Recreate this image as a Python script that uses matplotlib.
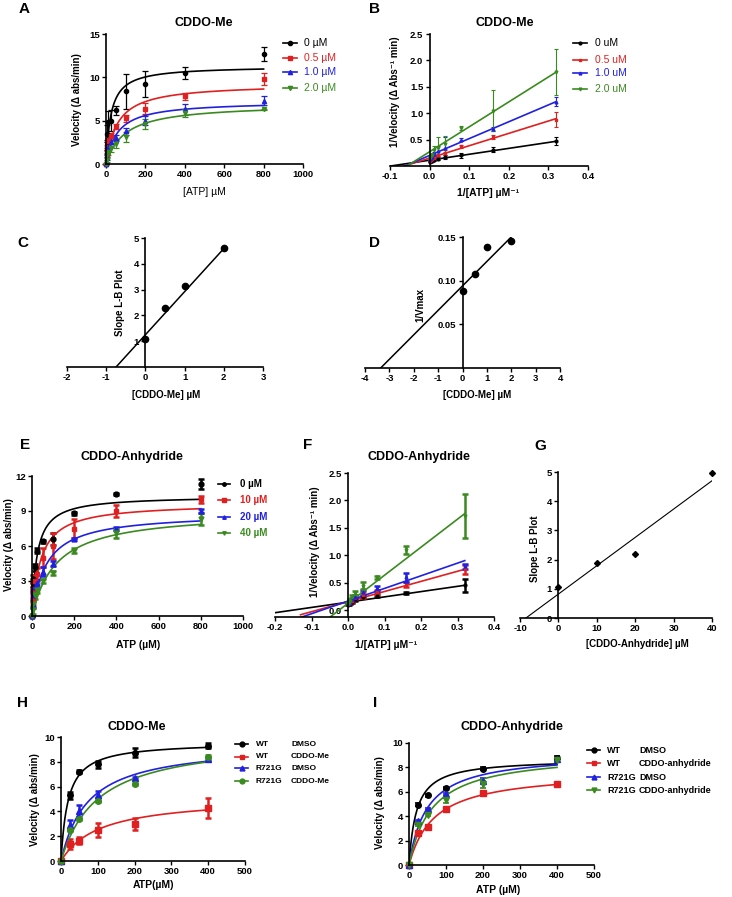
import numpy as np
import matplotlib
matplotlib.use("Agg")
import matplotlib.pyplot as plt
from matplotlib.lines import Line2D

plt.rcParams['font.family'] = ['Liberation Sans', 'DejaVu Sans']
plt.rcParams['font.weight'] = 'bold'
plt.rcParams['axes.unicode_minus'] = False

W, H = 732, 897
COLS = ["black", "#e02020", "#2020e0", "#3a8a20"]

# ---- data ----
atp = [0, 3.125, 6.25, 12.5, 25, 50, 100, 200, 400, 800]
inv_atp = [0.00125, 0.0025, 0.005, 0.01, 0.02, 0.04, 0.08, 0.16, 0.32]

# A: CDDO-Me velocities
A_labels = ["0 µM", "0.5 µM", "1.0 µM", "2.0 µM"]
A_v = [[0, 2.2, 3.5, 4.8, 5.0, 6.2, 8.4, 9.2, 10.5, 12.7],
       [0, 1.2, 2.0, 2.6, 3.2, 4.3, 5.3, 6.4, 7.8, 9.8],
       [0, 0.8, 1.4, 2.0, 2.5, 3.0, 3.8, 5.0, 6.3, 7.3],
       [0, 0.5, 1.0, 1.4, 1.9, 2.3, 3.1, 4.6, 5.9, 6.3]]
A_e = [[0, 0.6, 1.0, 1.3, 1.2, 0.5, 2.0, 1.5, 0.7, 0.8],
       [0, 0.4, 0.5, 0.4, 0.4, 0.3, 0.4, 0.6, 0.4, 0.7],
       [0, 0.3, 0.4, 0.4, 0.5, 0.3, 0.4, 0.5, 0.6, 0.5],
       [0, 0.3, 0.3, 0.4, 0.5, 0.5, 0.6, 0.6, 0.5, 0.1]]
A_vmax = [11.3, 9.27, 7.25, 6.94]
A_km = [25, 57.5, 58.8, 95]

# B: Lineweaver-Burk CDDO-Me
B_labels = ["0 uM", "0.5 uM", "1.0 uM", "2.0 uM"]
B_v = [[0.08, 0.095, 0.10, 0.12, 0.14, 0.17, 0.20, 0.31, 0.47],
       [0.10, 0.12, 0.14, 0.16, 0.20, 0.25, 0.37, 0.55, 0.88],
       [0.13, 0.15, 0.17, 0.22, 0.28, 0.35, 0.50, 0.70, 1.22],
       [0.15, 0.18, 0.21, 0.30, 0.35, 0.42, 0.72, 1.05, 1.78]]
B_e = [[0.01, 0.01, 0.02, 0.02, 0.03, 0.03, 0.05, 0.05, 0.07],
       [0.01, 0.02, 0.02, 0.03, 0.03, 0.05, 0.03, 0.03, 0.15],
       [0.01, 0.02, 0.03, 0.05, 0.10, 0.20, 0.03, 0.03, 0.08],
       [0.02, 0.03, 0.04, 0.08, 0.20, 0.15, 0.03, 0.38, 0.43]]
B_int = [0.11, 0.15, 0.20, 0.27]
B_slope = [1.12, 2.34, 3.19, 4.72]

# C / D: replots CDDO-Me
conc_me = [0, 0.5, 1, 2]
C_slope = [1.1, 2.3, 3.15, 4.6]
C_fit = (1.25, 1.67, -0.75, 2.0)      # intercept, slope, x start, x end
D_invv = [0.088, 0.108, 0.138, 0.145]
D_fit = (0.094, 0.028, -3.36, 2.0)

# E: CDDO-Anhydride velocities
E_labels = ["0 µM", "10 µM", "20 µM", "40 µM"]
E_v = [[0, 2.5, 3.2, 4.2, 5.6, 6.4, 6.6, 8.8, 10.45, 11.3],
       [0, 1.5, 2.3, 3.0, 3.6, 5.0, 6.0, 7.5, 9.0, 10.0],
       [0, 1.0, 1.8, 2.5, 2.8, 3.8, 4.5, 6.6, 7.5, 9.0],
       [0, 0.5, 1.0, 1.8, 2.2, 3.0, 3.7, 5.6, 7.1, 8.3]]
E_e = [[0, 0.3, 0.3, 0.3, 0.2, 0.1, 0.5, 0.1, 0.1, 0.4],
       [0, 0.5, 0.5, 0.5, 0.5, 0.8, 1.1, 0.8, 0.5, 0.3],
       [0, 0.3, 0.3, 0.3, 0.3, 0.4, 0.2, 0.1, 0.1, 0.2],
       [0, 0.3, 0.3, 0.3, 0.2, 0.2, 0.2, 0.2, 0.4, 0.5]]
E_vmax = [10.3, 9.68, 8.84, 8.98]
E_km = [24, 42, 68, 115]

# F: Lineweaver-Burk CDDO-Anhydride
F_v = [[0.10, 0.11, 0.12, 0.15, 0.20, 0.25, 0.27, 0.32, 0.46],
       [0.11, 0.12, 0.14, 0.17, 0.23, 0.28, 0.33, 0.47, 0.75],
       [0.12, 0.13, 0.15, 0.20, 0.25, 0.33, 0.40, 0.60, 0.80],
       [0.12, 0.14, 0.18, 0.25, 0.32, 0.45, 0.60, 1.10, 1.72]]
F_e = [[0.01, 0.01, 0.01, 0.01, 0.02, 0.02, 0.03, 0.02, 0.12],
       [0.01, 0.01, 0.02, 0.02, 0.03, 0.05, 0.05, 0.05, 0.08],
       [0.01, 0.01, 0.02, 0.02, 0.03, 0.05, 0.05, 0.08, 0.05],
       [0.01, 0.02, 0.02, 0.03, 0.04, 0.06, 0.03, 0.07, 0.40]]
F_int = [0.15, 0.16, 0.17, 0.13]
F_slope = [0.96, 1.84, 2.30, 5.10]
F_x0 = [-0.2, -0.13, -0.13, -0.055]

# G: replot CDDO-Anhydride
conc_an = [0, 10, 20, 40]
G_slope = [1.05, 1.9, 2.2, 4.95]
G_fit = (0.82, 0.097, -8.5, 40)

# H / I: WT vs R721G
atp_hi = [0, 25, 50, 100, 200, 400]
H_labels = [("WT", "DMSO"), ("WT", "CDDO-Me"), ("R721G", "DMSO"), ("R721G", "CDDO-Me")]
H_v = [[0, 5.3, 7.2, 7.8, 8.75, 9.3],
       [0, 1.35, 1.65, 2.5, 3.0, 4.3],
       [0, 2.9, 4.05, 5.35, 6.7, 8.2],
       [0, 2.5, 3.4, 4.85, 6.2, 8.35]]
H_e = [[0, 0.3, 0.1, 0.3, 0.4, 0.2],
       [0, 0.4, 0.25, 0.55, 0.5, 0.8],
       [0, 0.4, 0.5, 0.3, 0.1, 0.1],
       [0, 0.1, 0.1, 0.1, 0.1, 0.2]]
H_vmax = [9.6, 5.2, 9.52, 10.0]
H_km = [19, 105, 73, 100]

I_labels = [("WT", "DMSO"), ("WT", "CDDO-anhydride"), ("R721G", "DMSO"), ("R721G", "CDDO-anhydride")]
I_v = [[0, 4.95, 5.7, 6.3, 7.9, 8.8],
       [0, 2.6, 3.1, 4.55, 5.9, 6.6],
       [0, 3.6, 4.6, 5.8, 6.9, 8.7],
       [0, 3.3, 4.1, 5.3, 6.6, 8.6]]
I_e = [[0, 0.1, 0.1, 0.1, 0.1, 0.1],
       [0, 0.1, 0.1, 0.1, 0.1, 0.1],
       [0, 0.1, 0.1, 0.1, 0.2, 0.1],
       [0, 0.1, 0.1, 0.2, 0.3, 0.1]]
I_vmax = [8.7, 7.72, 9.18, 9.24]
I_km = [20, 68, 48, 62]

fig = plt.figure(figsize=(W / 100, H / 100), dpi=100)


def fx(x): return x / W
def fy(y): return 1 - y / H


def make_ax(l, t, r, b, xlim, ylim, xticks, yticks, yzero=False):
    ax = fig.add_axes([fx(l), fy(b), (r - l) / W, (b - t) / H])
    ax.spines[['top', 'right']].set_visible(False)
    ax.spines[['left', 'bottom']].set_linewidth(1.2)
    if yzero:
        ax.spines['left'].set_position(('data', 0))
    ax.set_xlim(*xlim); ax.set_ylim(*ylim)
    ax.set_xticks(xticks); ax.set_yticks(yticks)
    ax.tick_params(direction='out', length=3, width=1, labelsize=6.8, pad=1.5)
    ax.patch.set_alpha(0)
    return ax


def T(x, y, s, **kw):
    kw.setdefault('ha', 'center'); kw.setdefault('va', 'center')
    fig.text(fx(x), fy(y), s, **kw)


def legend(x0, x1, xt, ys, markers, labels, ms, colored=True, weight='normal', fs=7.5, xt2=None):
    for y, c, m, lab in zip(ys, COLS, markers, labels):
        fig.add_artist(Line2D([fx(x0), fx(x1)], [fy(y)] * 2, color=c, lw=1.2, transform=fig.transFigure))
        fig.add_artist(Line2D([fx((x0 + x1) / 2)], [fy(y)], marker=m, color=c, ms=ms, transform=fig.transFigure))
        tc = c if colored else 'black'
        if xt2 is None:
            T(xt, y, lab, ha='left', color=tc, fontsize=fs, fontweight=weight)
        else:
            T(xt, y, lab[0], ha='left', color=tc, fontsize=fs, fontweight=weight)
            T(xt2, y, lab[1], ha='left', color=tc, fontsize=fs, fontweight=weight)


def mm(ax, xs, ys, es, vmax, km, xmax, markers, ms, elw, cap):
    xx = np.linspace(0, xmax, 300)
    for i in range(4):
        ax.plot(xx, vmax[i] * xx / (km[i] + xx), color=COLS[i], lw=1.2)
        ax.errorbar(xs, ys[i], yerr=es[i], fmt=markers[i], color=COLS[i], ms=ms,
                    elinewidth=elw, capsize=cap, capthick=elw, clip_on=False)


mk4 = ['o', 's', '^', 'v']

# ---- A ----
ax = make_ax(106, 34, 303, 164, (0, 1000), (0, 15), range(0, 1001, 200), [0, 5, 10, 15])
mm(ax, atp, A_v, A_e, A_vmax, A_km, 800, mk4, 3, 0.9, 2)
T(24, 9, "A", fontsize=11)
T(204, 23, "CDDO-Me", fontsize=9)
T(77, 100, "Velocity (Δ abs/min)", rotation=90, fontsize=7)
T(204, 192, "[ATP] µM", fontsize=7.5, fontweight='normal')
legend(283, 297, 304, [43, 58, 72, 88], mk4, A_labels, 3)

# ---- B ----
ax = make_ax(390, 34, 588, 166, (-0.1, 0.4), (0, 2.5), [-0.1, 0, 0.1, 0.2, 0.3, 0.4],
             [0.5, 1.0, 1.5, 2.0, 2.5], yzero=True)
ax.xaxis.set_major_formatter(matplotlib.ticker.FormatStrFormatter('%.1f'))
ax.yaxis.set_major_formatter(matplotlib.ticker.FormatStrFormatter('%.1f'))
for i in range(4):
    x0 = max(-0.1, -B_int[i] / B_slope[i])
    xx = np.array([x0, 0.32])
    ax.plot(xx, B_int[i] + B_slope[i] * xx, color=COLS[i], lw=1.2)
    ax.errorbar(inv_atp, B_v[i], yerr=B_e[i], fmt=mk4[i], color=COLS[i], ms=2,
                elinewidth=0.8, capsize=1.5, capthick=0.8)
T(374, 9, "B", fontsize=11)
T(505, 23, "CDDO-Me", fontsize=9)
T(395, 92, "1/Velocity (Δ Abs⁻¹ min)", rotation=90, fontsize=7)
T(488, 193, "1/[ATP] µM⁻¹", fontsize=7.5)
legend(573, 587, 595, [43, 60, 73, 89], mk4, B_labels, 2)

# ---- C ----
ax = make_ax(67, 238, 263, 367, (-2, 3), (0, 5), range(-2, 4), [1, 2, 3, 4, 5], yzero=True)
xx = np.array(C_fit[2:])
ax.plot(xx, C_fit[0] + C_fit[1] * xx, color='black', lw=1.1)
ax.plot(conc_me, C_slope, 'o', color='black', ms=4.5, clip_on=False)
T(23, 243, "C", fontsize=11)
T(120, 303, "Slope L-B Plot", rotation=90, fontsize=7)
T(166, 395, "[CDDO-Me] µM", fontsize=7)

# ---- D ----
ax = make_ax(365, 237, 560, 368, (-4, 4), (0, 0.15), range(-4, 5), [0.05, 0.10, 0.15], yzero=True)
ax.yaxis.set_major_formatter(matplotlib.ticker.FormatStrFormatter('%.2f'))
xx = np.array(D_fit[2:])
ax.plot(xx, D_fit[0] + D_fit[1] * xx, color='black', lw=1.1)
ax.plot(conc_me, D_invv, 'o', color='black', ms=4.5, clip_on=False)
T(374, 243, "D", fontsize=11)
T(420, 305, "1/Vmax", rotation=90, fontsize=7)
T(477, 395, "[CDDO-Me] µM", fontsize=7)

# ---- E ----
ax = make_ax(32, 476, 243, 616, (0, 1000), (0, 12), range(0, 1001, 200), [0, 3, 6, 9, 12])
mm(ax, atp, E_v, E_e, E_vmax, E_km, 800, mk4, 3.5, 1.8, 2.5)
T(25, 445, "E", fontsize=11)
T(132, 457, "CDDO-Anhydride", fontsize=9)
T(9, 545, "Velocity (Δ abs/min)", rotation=90, fontsize=7)
T(138, 645, "ATP (µM)", fontsize=7.5)
legend(218, 230, 240, [484, 500, 517, 533], mk4, E_labels, 2.5, weight='bold', fs=7)

# ---- F ----
ax = make_ax(275, 473, 494, 617, (-0.2, 0.4), (-0.12, 2.5), [-0.2, -0.1, 0, 0.1, 0.2, 0.3, 0.4],
             [0, 0.5, 1.0, 1.5, 2.0, 2.5], yzero=True)
ax.xaxis.set_major_formatter(matplotlib.ticker.FormatStrFormatter('%.1f'))
ax.yaxis.set_major_formatter(matplotlib.ticker.FormatStrFormatter('%.1f'))
for i in range(4):
    xx = np.array([F_x0[i], 0.32])
    ax.plot(xx, F_int[i] + F_slope[i] * xx, color=COLS[i], lw=1.2)
    ax.errorbar(inv_atp, F_v[i], yerr=F_e[i], fmt=mk4[i], color=COLS[i], ms=2,
                elinewidth=1.8, capsize=2, capthick=1.8)
T(308, 445, "F", fontsize=11)
T(419, 457, "CDDO-Anhydride", fontsize=9)
T(315, 542, "1/Velocity (Δ Abs⁻¹ min)", rotation=90, fontsize=7)
T(386, 645, "1/[ATP] µM⁻¹", fontsize=7.5)

# ---- G ----
ax = make_ax(520, 472, 712, 618, (-10, 40), (0, 5), range(-10, 41, 10), range(0, 6), yzero=True)
xx = np.array(G_fit[2:])
ax.plot(xx, G_fit[0] + G_fit[1] * xx, color='black', lw=0.8)
ax.plot(conc_an, G_slope, 'D', color='black', ms=3, clip_on=False)
T(540, 446, "G", fontsize=11)
T(535, 549, "Slope L-B Plot", rotation=90, fontsize=7)
T(637, 644, "[CDDO-Anhydride] µM", fontsize=7)

# ---- H ----
mkH = ['o', 's', '^', 'o']
ax = make_ax(61, 737, 245, 861, (0, 500), (0, 10), range(0, 501, 100), range(0, 11, 2))
mm(ax, atp_hi, H_v, H_e, H_vmax, H_km, 400, mkH, 4, 1.8, 2.5)
T(23, 703, "H", fontsize=11)
T(137, 727, "CDDO-Me", fontsize=9)
T(35, 800, "Velocity (Δ abs/min)", rotation=90, fontsize=7)
T(153, 885, "ATP(µM)", fontsize=7.5)
legend(235, 248, 256, [744, 757, 768, 781], mkH, H_labels, 3.5, colored=False,
       weight='bold', fs=6.0, xt2=291)

# ---- I ----
ax = make_ax(409, 743, 594, 865, (0, 500), (0, 10), range(0, 501, 100), range(0, 11, 2))
mm(ax, atp_hi, I_v, I_e, I_vmax, I_km, 400, mk4, 4, 1.2, 2)
T(375, 703, "I", fontsize=11)
T(512, 727, "CDDO-Anhydride", fontsize=9)
T(380, 803, "Velocity (Δ abs/min)", rotation=90, fontsize=7)
T(498, 890, "ATP (µM)", fontsize=7.5)
legend(587, 600, 607, [750, 763, 777, 790], mk4, I_labels, 3.5, colored=False,
       weight='bold', fs=6.5, xt2=639)

fig.savefig("out.png", dpi=100)
